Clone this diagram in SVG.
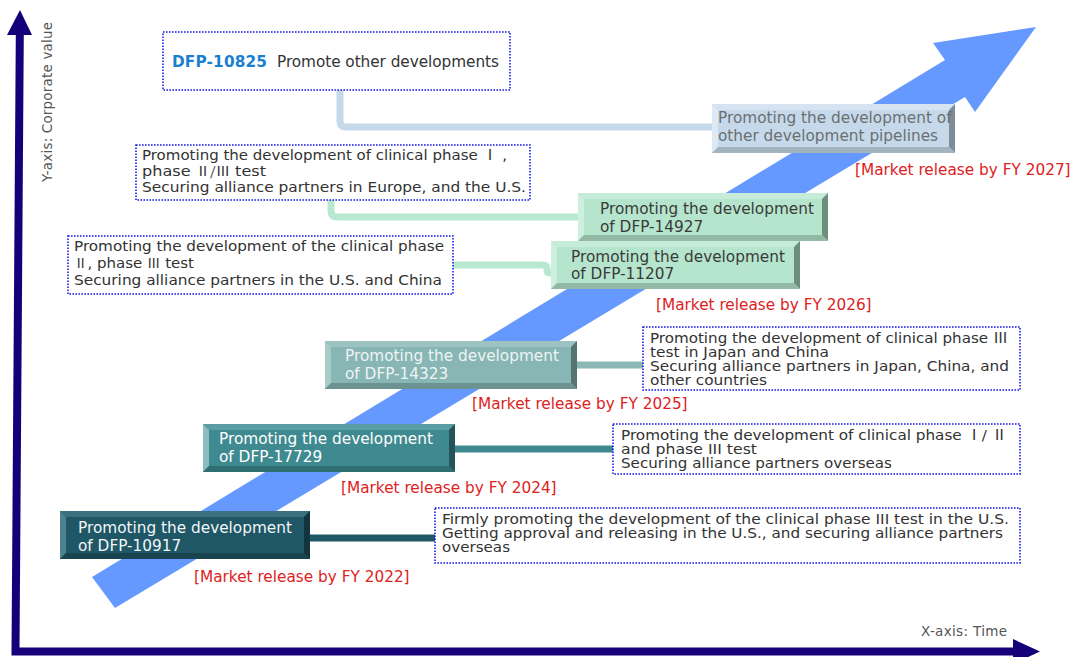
<svg xmlns="http://www.w3.org/2000/svg" width="1073" height="657" viewBox="0 0 1073 657">
<style>
text{font-family:"DejaVu Sans","Noto Sans CJK JP",sans-serif;}
.bs{font-size:14px;fill:#333;}
.cj{font-family:"Noto Sans CJK JP",sans-serif;}
.cs{font-family:"Noto Sans CJK JP",sans-serif;font-size:12.5px;}
.nt{font-size:15.3px;}
.rl{font-size:15.3px;fill:#dd2222;}
.ax{font-size:13.5px;fill:#555;}
.box{fill:#fff;stroke:#1a1ae6;stroke-width:1.6;stroke-dasharray:1.6 1.4;}
.cn{fill:none;stroke-width:7;stroke-linejoin:round;}
</style>
<rect width="1073" height="657" fill="#fff"/>
<!-- big rising arrow -->
<polygon id="trend" points="92,577 945,60 933,43 1036,27 975,112 965,97 115,608" fill="#6699ff"/>
<!-- axes -->
<g id="axes">
<polyline points="19.8,35 15.5,651.5 1014,651.5" fill="none" stroke="#16007a" stroke-width="8"/>
<polygon points="20,10 32,35 7,35" fill="#16007a"/>
<polygon points="1040,651.5 1013,639 1013,664" fill="#16007a"/>
<text class="ax" x="52" y="182" transform="rotate(-90 52 182)" textLength="160">Y-axis: Corporate value</text>
<text class="ax" x="921" y="636" textLength="86">X-axis: Time</text>
</g>
<!-- connectors -->
<g id="connectors">
<path class="cn" stroke="#c5d9ea" d="M340 90 V121 Q340 127 346 127 H714"/>
<path class="cn" stroke="#b8e8cf" d="M331 200 V211 Q331 217 337 217 H580"/>
<path class="cn" stroke="#b8e8cf" d="M453 265 H543 Q547 265 547 269 V271 Q547 273 551 273 H553"/>
<path class="cn" stroke="#8ab8b5" d="M575 365 H644"/>
<path class="cn" stroke="#3f8a90" d="M453 449 H614"/>
<path class="cn" stroke="#1f5766" d="M308 538 H436"/>
</g>
<!-- text boxes -->
<g id="box-10825">
<rect class="box" x="163" y="32" width="347" height="58"/>
<text x="172" y="67" font-size="15.3" font-weight="bold" fill="#1a7fcf" textLength="95">DFP-10825</text>
<text x="277" y="67" font-size="15.3" fill="#333" textLength="222">Promote other developments</text>
</g>
<g id="box-europe">
<rect class="box" x="136" y="145" width="394" height="55"/>
<text class="bs" x="142" y="160" textLength="365" lengthAdjust="spacingAndGlyphs">Promoting the development of clinical phase <tspan class="cj">Ⅰ</tspan> ,</text>
<text class="bs" x="142" y="176" textLength="124" lengthAdjust="spacingAndGlyphs">phase <tspan class="cs">Ⅱ/Ⅲ</tspan> test</text>
<text class="bs" x="142" y="192" textLength="384" lengthAdjust="spacingAndGlyphs">Securing alliance partners in Europe, and the U.S.</text>
</g>
<g id="box-uschina">
<rect class="box" x="68" y="236" width="385" height="58"/>
<text class="bs" x="74" y="251" textLength="370" lengthAdjust="spacingAndGlyphs">Promoting the development of the clinical phase</text>
<text class="bs" x="74" y="268" textLength="120" lengthAdjust="spacingAndGlyphs"><tspan class="cs">Ⅱ</tspan>, phase <tspan class="cs">Ⅲ</tspan> test</text>
<text class="bs" x="74" y="285" textLength="368" lengthAdjust="spacingAndGlyphs">Securing alliance partners in the U.S. and China</text>
</g>
<g id="box-japan">
<rect class="box" x="643" y="327" width="377" height="63"/>
<text class="bs" x="650" y="343" textLength="358" lengthAdjust="spacingAndGlyphs">Promoting the development of clinical phase <tspan class="cj">Ⅲ</tspan></text>
<text class="bs" x="650" y="357" textLength="179" lengthAdjust="spacingAndGlyphs">test in Japan and China</text>
<text class="bs" x="650" y="371" textLength="359" lengthAdjust="spacingAndGlyphs">Securing alliance partners in Japan, China, and</text>
<text class="bs" x="650" y="385" textLength="117" lengthAdjust="spacingAndGlyphs">other countries</text>
</g>
<g id="box-overseas">
<rect class="box" x="613" y="424" width="407" height="50"/>
<text class="bs" x="621" y="440" textLength="386" lengthAdjust="spacingAndGlyphs">Promoting the development of clinical phase  <tspan class="cj">Ⅰ</tspan>/ <tspan class="cj">Ⅱ</tspan></text>
<text class="bs" x="621" y="454" textLength="136" lengthAdjust="spacingAndGlyphs">and phase III test</text>
<text class="bs" x="621" y="468" textLength="271" lengthAdjust="spacingAndGlyphs">Securing alliance partners overseas</text>
</g>
<g id="box-us">
<rect class="box" x="435" y="508" width="585" height="55"/>
<text class="bs" x="442" y="524" textLength="567" lengthAdjust="spacingAndGlyphs">Firmly promoting the development of the clinical phase III test in the U.S.</text>
<text class="bs" x="442" y="538" textLength="561" lengthAdjust="spacingAndGlyphs">Getting approval and releasing in the U.S., and securing alliance partners</text>
<text class="bs" x="442" y="552" textLength="68" lengthAdjust="spacingAndGlyphs">overseas</text>
</g>
<!-- beveled nodes -->
<g id="node-pipelines">
<rect x="712" y="104" width="243" height="49" fill="#c5d9ea"/>
<polygon points="712,104 955,104 949,110 718,110" fill="#d6e4f1"/>
<polygon points="712,104 718,110 718,147 712,153" fill="#dde9f4"/>
<polygon points="955,104 955,153 949,147 949,110" fill="#7d8d99"/>
<polygon points="712,153 718,147 949,147 955,153" fill="#a3b3c0"/>
<text class="nt" x="718" y="123" fill="#6b6f72">Promoting the development of</text>
<text class="nt" x="718" y="141" fill="#6b6f72">other development pipelines</text>
</g>
<g id="node-14927">
<rect x="578" y="193" width="250" height="48" fill="#b5e5cc"/>
<polygon points="578,193 828,193 822,199 584,199" fill="#c6ecd9"/>
<polygon points="578,193 584,199 584,235 578,241" fill="#cdefde"/>
<polygon points="828,193 828,241 822,235 822,199" fill="#6e8f7e"/>
<polygon points="578,241 584,235 822,235 828,241" fill="#93b8a4"/>
<text class="nt" x="600" y="214" fill="#3a3a3a">Promoting the development</text>
<text class="nt" x="600" y="232" fill="#3a3a3a">of DFP-14927</text>
</g>
<g id="node-11207">
<rect x="551" y="241" width="249" height="48" fill="#b5e5cc"/>
<polygon points="551,241 800,241 794,247 557,247" fill="#c6ecd9"/>
<polygon points="551,241 557,247 557,283 551,289" fill="#cdefde"/>
<polygon points="800,241 800,289 794,283 794,247" fill="#6e8f7e"/>
<polygon points="551,289 557,283 794,283 800,289" fill="#93b8a4"/>
<text class="nt" x="571" y="262" fill="#3a3a3a">Promoting the development</text>
<text class="nt" x="571" y="279" fill="#3a3a3a">of DFP-11207</text>
</g>
<g id="node-14323">
<rect x="325" y="341" width="252" height="48" fill="#88b6b4"/>
<polygon points="325,341 577,341 571,347 331,347" fill="#9cc3c1"/>
<polygon points="325,341 331,347 331,383 325,389" fill="#a7cbc9"/>
<polygon points="577,341 577,389 571,383 571,347" fill="#557472"/>
<polygon points="325,389 331,383 571,383 577,389" fill="#6c9391"/>
<text class="nt" x="345" y="361" fill="#eef4f4">Promoting the development</text>
<text class="nt" x="345" y="379" fill="#eef4f4">of DFP-14323</text>
</g>
<g id="node-17729">
<rect x="203" y="424" width="252" height="48" fill="#3f8a90"/>
<polygon points="203,424 455,424 449,430 209,430" fill="#5a9ea3"/>
<polygon points="203,424 209,430 209,466 203,472" fill="#8bbcc0"/>
<polygon points="455,424 455,472 449,466 449,430" fill="#245458"/>
<polygon points="203,472 209,466 449,466 455,472" fill="#2f6e73"/>
<text class="nt" x="219" y="444" fill="#ffffff">Promoting the development</text>
<text class="nt" x="219" y="462" fill="#ffffff">of DFP-17729</text>
</g>
<g id="node-10917">
<rect x="60" y="511" width="250" height="48" fill="#1f5766"/>
<polygon points="60,511 310,511 304,517 66,517" fill="#3a7080"/>
<polygon points="60,511 66,517 66,553 60,559" fill="#4d8391"/>
<polygon points="310,511 310,559 304,553 304,517" fill="#11343d"/>
<polygon points="60,559 66,553 304,553 310,559" fill="#17444f"/>
<text class="nt" x="78" y="533" fill="#f2f6f7">Promoting the development</text>
<text class="nt" x="78" y="551" fill="#f2f6f7">of DFP-10917</text>
</g>
<!-- release labels -->
<g id="labels">
<text class="rl" x="855" y="175">[Market release by FY 2027]</text>
<text class="rl" x="656" y="310">[Market release by FY 2026]</text>
<text class="rl" x="472" y="409">[Market release by FY 2025]</text>
<text class="rl" x="341" y="493">[Market release by FY 2024]</text>
<text class="rl" x="194" y="582">[Market release by FY 2022]</text>
</g>
</svg>
